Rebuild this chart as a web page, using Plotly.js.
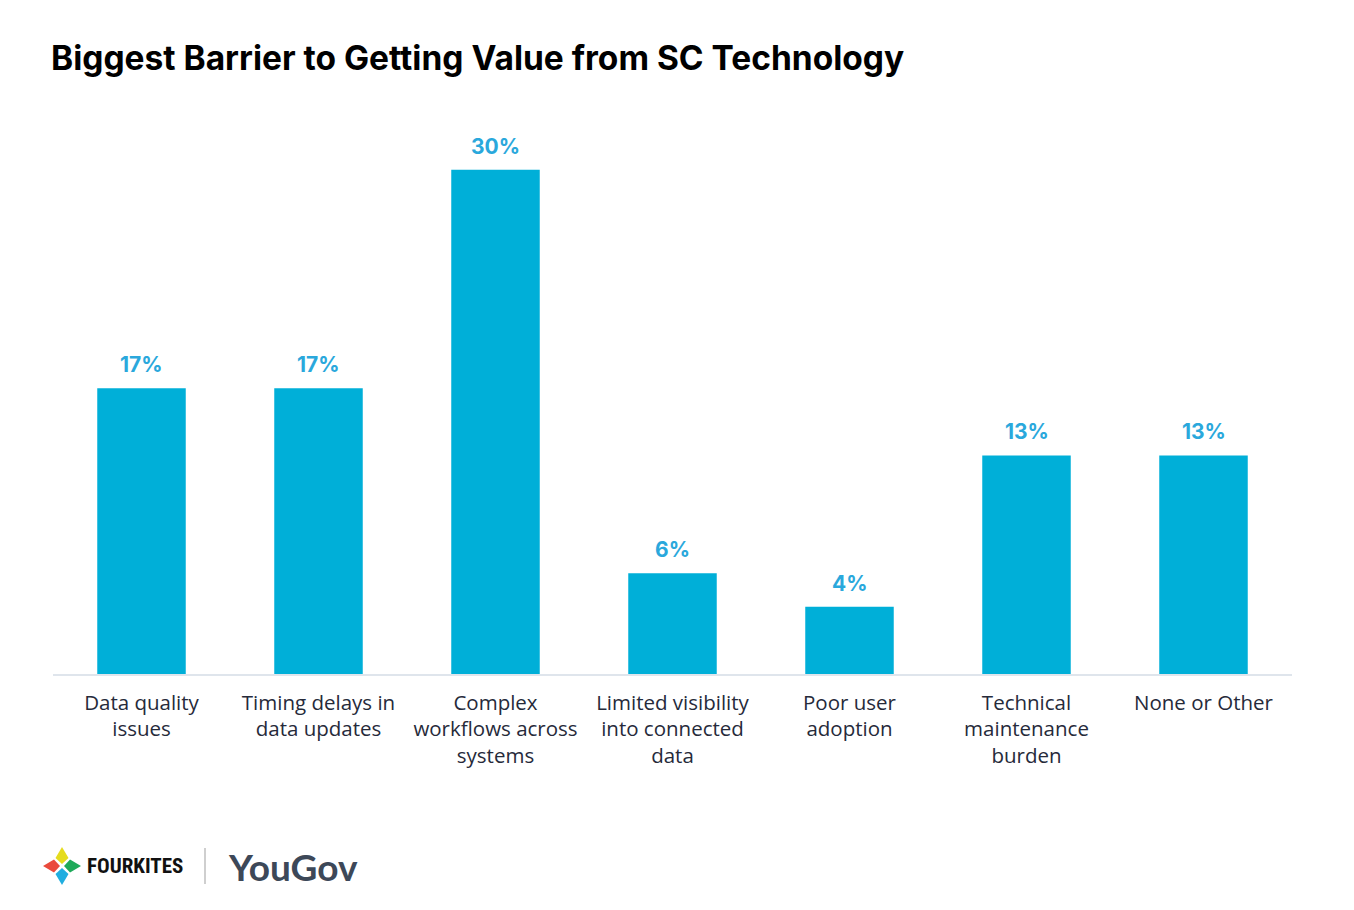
<!DOCTYPE html>
<html><head><meta charset="utf-8">
<script src="https://cdn.plot.ly/plotly-3.0.1.min.js"></script>
<style>html,body{margin:0;padding:0;background:#fff}#chart{width:1354px;height:910px}</style>
</head><body><div id="chart"></div>
<script>
const categories = ["Data quality<br>issues","Timing delays in<br>data updates","Complex<br>workflows across<br>systems","Limited visibility<br>into connected<br>data","Poor user<br>adoption","Technical<br>maintenance<br>burden","None or Other"];
const values = [17, 17, 30, 6, 4, 13, 13];
const valueLabels = ["17%","17%","30%","6%","4%","13%","13%"];

const W = 1354, H = 910;
const M = {l: 53, r: 62, t: 136, b: 236};
const PW = W - M.l - M.r, PH = H - M.t - M.b;
function px(x){ return (x - M.l) / PW; }
function py(y){ return (H - M.b - y) / PH; }

function kite(pts, color){
  let d = 'M' + pts.map(p => px(p[0]) + ',' + py(p[1])).join(' L') + ' Z';
  return {type:'path', xref:'paper', yref:'paper', path:d, fillcolor:color, line:{width:0}, layer:'above'};
}
const cx = 62, cy = 866;
const shapes = [
  kite([[cx,cy-19],[cx+6.5,cy-8],[cx,cy-2],[cx-6.5,cy-8]], '#e5dc1e'),
  kite([[cx+19,cy],[cx+8,cy+6.5],[cx+2,cy],[cx+8,cy-6.5]], '#1faa5a'),
  kite([[cx,cy+19],[cx-6.5,cy+8],[cx,cy+2],[cx+6.5,cy+8]], '#20aee0'),
  kite([[cx-19,cy],[cx-8,cy-6.5],[cx-2,cy],[cx-8,cy+6.5]], '#ea4a3c'),
  {type:'line', xref:'paper', yref:'paper', x0:px(205), x1:px(205), y0:py(848), y1:py(884), line:{color:'#cfcfcf', width:2}}
];

const annotations = values.map((v,i) => ({
  x: i, y: v, xref:'x', yref:'y', text: valueLabels[i], showarrow:false,
  yanchor:'bottom', yshift: 9,
  font:{family:'Inter, "Open Sans", sans-serif', size:21, color:'#2aa8dc', weight:700}
}));
annotations.push({
  xref:'paper', yref:'paper', x: px(49), y: py(58), xanchor:'left', yanchor:'middle', showarrow:false,
  text:'<b>Biggest Barrier to Getting Value from SC Technology</b>',
  font:{family:'Inter, "Open Sans", sans-serif', size:33.5, color:'#000'}
});
annotations.push({
  xref:'paper', yref:'paper', x: px(85), y: py(866), xanchor:'left', yanchor:'middle', showarrow:false,
  text:'<b>FOURKITES</b>',
  font:{family:'"Liberation Sans Narrow", "Roboto Condensed", Roboto, sans-serif', size:21, color:'#111'}
});
annotations.push({
  xref:'paper', yref:'paper', x: px(226), y: py(866), xanchor:'left', yanchor:'middle', showarrow:false,
  text:'<b>YouGov</b>',
  font:{family:'Lato, "Open Sans", sans-serif', size:37, color:'#3d4858'}
});

Plotly.newPlot('chart', [{
  type:'bar', x: categories.map((c,i)=>i), y: values,
  marker:{color:'#00afd8'}, hoverinfo:'none'
}], {
  width: W, height: H, margin: M,
  paper_bgcolor:'#fff', plot_bgcolor:'#fff',
  bargap: 0.5, showlegend:false,
  xaxis:{
    tickmode:'array', tickvals: categories.map((c,i)=>i), ticktext: categories,
    range:[-0.5, 6.5], showgrid:false, zeroline:false,
    showline:true, linecolor:'#dfe5ec', linewidth:2,
    ticks:'', ticklabelstandoff: 9,
    tickfont:{family:'"Open Sans", sans-serif', size:20.5, color:'#262a3a'}
  },
  yaxis:{range:[0,32], visible:false, fixedrange:true},
  shapes: shapes, annotations: annotations
}, {staticPlot:true});
</script></body></html>
